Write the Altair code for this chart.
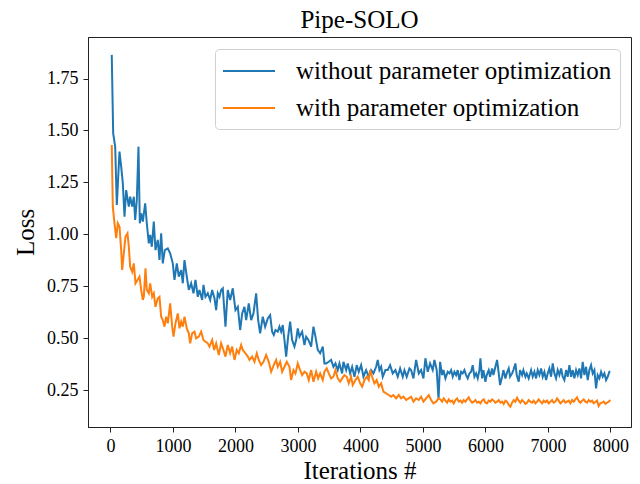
import altair as alt
import pandas as pd

FONT = "Liberation Serif"
SERIES = ["without parameter optimization", "with parameter optimization"]
COLORS = ["#1f77b4", "#ff7f0e"]

X_TICKS = [0, 1000, 2000, 3000, 4000, 5000, 6000, 7000, 8000]
Y_TICKS = [0.25, 0.50, 0.75, 1.00, 1.25, 1.50, 1.75]

blue_iter = [
    20, 43, 75, 101, 144, 171, 197, 224, 251, 293, 315, 347, 373, 395, 421, 448, 469, 491, 517, 555,
    581, 613, 635, 661, 693, 720, 757, 784, 811, 837, 869, 917, 955, 997, 1024, 1061, 1093, 1131, 1157, 1184,
    1221, 1253, 1291, 1328, 1360, 1397, 1424, 1467, 1488, 1520, 1557, 1595, 1627, 1664, 1691, 1717, 1744, 1771, 1797, 1840,
    1877, 1915, 1957, 2000, 2037, 2075, 2107, 2144, 2171, 2213, 2251, 2288, 2331, 2363, 2395, 2437, 2475, 2517, 2555, 2587,
    2613, 2640, 2677, 2704, 2731, 2757, 2784, 2811, 2843, 2875, 2907, 2944, 2971, 2997, 3024, 3067, 3104, 3131, 3168, 3211,
    3248, 3280, 3317, 3355, 3397, 3424, 3451, 3493, 3531, 3568, 3600, 3637, 3664, 3707, 3728, 3771, 3797, 3835, 3867, 3904,
    3941, 3973, 4011, 4048, 4091, 4133, 4171, 4208, 4251, 4277, 4304, 4331, 4357, 4400, 4437, 4475, 4517, 4560, 4597, 4635,
    4677, 4704, 4741, 4784, 4811, 4848, 4891, 4933, 4971, 5008, 5040, 5077, 5115, 5157, 5184, 5221, 5250, 5275, 5307, 5328,
    5360, 5397, 5424, 5451, 5477, 5504, 5531, 5557, 5584, 5611, 5637, 5664, 5691, 5717, 5744, 5771, 5797, 5824, 5851, 5877,
    5904, 5920, 5947, 5968, 6000, 6021, 6053, 6075, 6107, 6128, 6160, 6187, 6213, 6235, 6267, 6288, 6320, 6341, 6373, 6395,
    6427, 6448, 6480, 6501, 6533, 6555, 6587, 6608, 6640, 6661, 6693, 6731, 6757, 6784, 6811, 6837, 6864, 6891, 6917, 6944,
    6971, 6997, 7024, 7051, 7077, 7104, 7131, 7157, 7184, 7211, 7237, 7264, 7291, 7317, 7344, 7371, 7397, 7424, 7451, 7477,
    7504, 7531, 7557, 7584, 7611, 7637, 7664, 7691, 7717, 7744, 7771, 7797, 7824, 7851, 7877, 7904, 7931, 7957, 7984, 8000,
]
blue_loss = [
    1.864, 1.486, 1.422, 1.141, 1.398, 1.326, 1.246, 1.085, 1.213, 1.133, 1.181, 1.133, 1.181, 1.069, 1.165, 1.422, 1.053, 1.101, 1.061, 1.149,
    1.053, 0.956, 0.997, 0.940, 1.061, 0.924, 0.973, 0.876, 1.005, 0.860, 0.924, 0.932, 0.908, 0.860, 0.780, 0.860, 0.796, 0.828, 0.764, 0.876,
    0.796, 0.732, 0.764, 0.716, 0.780, 0.699, 0.732, 0.684, 0.756, 0.699, 0.716, 0.684, 0.732, 0.692, 0.635, 0.716, 0.699, 0.732, 0.740, 0.555,
    0.732, 0.684, 0.740, 0.635, 0.651, 0.539, 0.619, 0.651, 0.587, 0.667, 0.587, 0.619, 0.716, 0.587, 0.523, 0.603, 0.555, 0.595, 0.611, 0.531,
    0.515, 0.539, 0.531, 0.555, 0.531, 0.563, 0.491, 0.411, 0.507, 0.579, 0.491, 0.459, 0.491, 0.547, 0.507, 0.531, 0.467, 0.507, 0.491, 0.459,
    0.555, 0.507, 0.443, 0.427, 0.459, 0.378, 0.378, 0.386, 0.395, 0.362, 0.378, 0.346, 0.378, 0.330, 0.386, 0.346, 0.378, 0.330, 0.362, 0.314,
    0.370, 0.338, 0.370, 0.314, 0.346, 0.314, 0.346, 0.330, 0.362, 0.395, 0.346, 0.362, 0.314, 0.346, 0.346, 0.370, 0.330, 0.346, 0.314, 0.354,
    0.314, 0.346, 0.314, 0.354, 0.346, 0.306, 0.395, 0.330, 0.346, 0.306, 0.403, 0.338, 0.378, 0.346, 0.395, 0.346, 0.205, 0.386, 0.322, 0.346,
    0.306, 0.338, 0.330, 0.346, 0.314, 0.338, 0.322, 0.346, 0.298, 0.338, 0.330, 0.346, 0.322, 0.306, 0.330, 0.338, 0.370, 0.314, 0.330, 0.306,
    0.346, 0.403, 0.306, 0.346, 0.290, 0.322, 0.346, 0.314, 0.354, 0.322, 0.362, 0.395, 0.330, 0.274, 0.314, 0.346, 0.306, 0.330, 0.354, 0.314,
    0.330, 0.346, 0.378, 0.322, 0.290, 0.346, 0.322, 0.346, 0.314, 0.330, 0.306, 0.346, 0.314, 0.338, 0.306, 0.346, 0.322, 0.354, 0.314, 0.338,
    0.298, 0.330, 0.354, 0.314, 0.378, 0.330, 0.306, 0.346, 0.322, 0.354, 0.314, 0.298, 0.346, 0.314, 0.370, 0.314, 0.346, 0.306, 0.346, 0.322,
    0.354, 0.306, 0.386, 0.322, 0.362, 0.298, 0.346, 0.370, 0.330, 0.346, 0.258, 0.322, 0.306, 0.338, 0.314, 0.330, 0.298, 0.314, 0.338, 0.338,
]

orange_iter = [
    20, 37, 64, 91, 117, 144, 171, 187, 208, 240, 272, 293, 315, 347, 373, 400, 432, 464, 491, 517,
    533, 560, 581, 613, 635, 667, 693, 720, 757, 784, 811, 837, 864, 891, 917, 955, 987, 1008, 1040, 1077,
    1104, 1131, 1157, 1184, 1221, 1253, 1275, 1307, 1344, 1371, 1413, 1451, 1488, 1520, 1557, 1584, 1627, 1659, 1691, 1733,
    1771, 1808, 1840, 1877, 1915, 1947, 1984, 2021, 2053, 2091, 2117, 2160, 2197, 2224, 2267, 2304, 2341, 2373, 2411, 2448,
    2491, 2533, 2571, 2624, 2651, 2677, 2715, 2747, 2784, 2821, 2864, 2891, 2928, 2960, 2997, 3024, 3067, 3104, 3141, 3173,
    3211, 3248, 3291, 3323, 3355, 3397, 3424, 3461, 3493, 3531, 3568, 3600, 3637, 3675, 3707, 3744, 3781, 3813, 3851, 3877,
    3920, 3957, 3995, 4027, 4064, 4101, 4133, 4155, 4187, 4224, 4261, 4293, 4331, 4368, 4411, 4453, 4491, 4528, 4571, 4613,
    4651, 4688, 4731, 4773, 4811, 4848, 4891, 4933, 4971, 5008, 5051, 5093, 5131, 5168, 5211, 5253, 5280, 5307, 5333, 5360,
    5387, 5413, 5440, 5467, 5493, 5520, 5547, 5573, 5600, 5627, 5653, 5680, 5707, 5733, 5760, 5787, 5813, 5840, 5867, 5893,
    5920, 5947, 5973, 6000, 6027, 6053, 6080, 6107, 6133, 6160, 6187, 6213, 6240, 6267, 6293, 6320, 6347, 6373, 6400, 6427,
    6453, 6480, 6507, 6533, 6560, 6587, 6613, 6640, 6667, 6693, 6720, 6747, 6773, 6800, 6827, 6853, 6880, 6907, 6933, 6960,
    6987, 7013, 7040, 7067, 7093, 7120, 7147, 7173, 7200, 7227, 7253, 7280, 7307, 7333, 7360, 7387, 7413, 7440, 7467, 7493,
    7520, 7547, 7573, 7600, 7627, 7653, 7680, 7707, 7733, 7760, 7787, 7813, 7840, 7867, 7893, 7920, 7947, 7973, 8000,
]
orange_loss = [
    1.430, 1.133, 1.053, 0.981, 1.053, 1.037, 0.924, 0.828, 0.892, 0.989, 1.005, 0.940, 0.844, 0.820, 0.860, 0.764, 0.780, 0.796, 0.732, 0.684,
    0.699, 0.836, 0.732, 0.716, 0.764, 0.699, 0.716, 0.651, 0.692, 0.699, 0.603, 0.587, 0.555, 0.603, 0.571, 0.667, 0.555, 0.507, 0.571, 0.619,
    0.547, 0.579, 0.555, 0.603, 0.547, 0.523, 0.475, 0.523, 0.531, 0.499, 0.507, 0.531, 0.491, 0.483, 0.475, 0.459, 0.491, 0.443, 0.475, 0.419,
    0.475, 0.443, 0.411, 0.467, 0.427, 0.459, 0.395, 0.443, 0.427, 0.467, 0.443, 0.427, 0.411, 0.395, 0.411, 0.386, 0.427, 0.395, 0.370, 0.386,
    0.419, 0.386, 0.338, 0.378, 0.395, 0.362, 0.386, 0.338, 0.362, 0.386, 0.362, 0.298, 0.346, 0.330, 0.378, 0.354, 0.322, 0.338, 0.330, 0.298,
    0.346, 0.290, 0.338, 0.306, 0.330, 0.298, 0.338, 0.354, 0.330, 0.306, 0.314, 0.346, 0.306, 0.290, 0.306, 0.322, 0.314, 0.282, 0.314, 0.274,
    0.298, 0.314, 0.282, 0.266, 0.298, 0.314, 0.298, 0.346, 0.314, 0.282, 0.298, 0.266, 0.282, 0.242, 0.234, 0.226, 0.218, 0.226, 0.210, 0.226,
    0.210, 0.218, 0.202, 0.210, 0.218, 0.194, 0.210, 0.202, 0.218, 0.194, 0.210, 0.226, 0.202, 0.186, 0.194, 0.210, 0.205, 0.194, 0.210, 0.199,
    0.189, 0.205, 0.194, 0.199, 0.186, 0.202, 0.210, 0.194, 0.199, 0.189, 0.202, 0.194, 0.205, 0.215, 0.199, 0.189, 0.194, 0.202, 0.189, 0.194,
    0.186, 0.199, 0.205, 0.189, 0.186, 0.199, 0.194, 0.205, 0.199, 0.189, 0.194, 0.202, 0.189, 0.194, 0.183, 0.199, 0.194, 0.178, 0.170, 0.189,
    0.202, 0.194, 0.213, 0.199, 0.189, 0.202, 0.194, 0.183, 0.189, 0.202, 0.194, 0.189, 0.199, 0.186, 0.194, 0.205, 0.194, 0.186, 0.199, 0.192,
    0.199, 0.186, 0.194, 0.202, 0.189, 0.194, 0.210, 0.199, 0.186, 0.194, 0.202, 0.189, 0.194, 0.199, 0.186, 0.202, 0.194, 0.205, 0.215, 0.197,
    0.189, 0.199, 0.205, 0.194, 0.189, 0.202, 0.194, 0.199, 0.186, 0.192, 0.199, 0.173, 0.186, 0.189, 0.194, 0.183, 0.189, 0.194, 0.202,
]

df_blue = pd.DataFrame({"iter": blue_iter, "loss": blue_loss, "series": SERIES[0]})
df_orange = pd.DataFrame({"iter": orange_iter, "loss": orange_loss, "series": SERIES[1]})

x_enc = alt.X(
    "iter:Q",
    scale=alt.Scale(domain=[-360, 8330], nice=False, zero=False),
    axis=alt.Axis(
        values=X_TICKS, format="d", title="Iterations #", grid=False,
        titleY=51, titleBaseline="alphabetic",
    ),
)
y_enc = alt.Y(
    "loss:Q",
    scale=alt.Scale(domain=[0.072, 1.950], nice=False, zero=False),
    axis=alt.Axis(
        values=Y_TICKS, format=".2f", title="Loss", grid=False,
        titleAngle=270, titleX=-55, titleY=195, titleAlign="center", titleBaseline="alphabetic",
    ),
)
color_enc = alt.Color(
    "series:N",
    scale=alt.Scale(domain=SERIES, range=COLORS),
    legend=alt.Legend(
        title=None, orient="none", legendX=127, legendY=12,
        symbolType="M-2,0H2", symbolSize=676, symbolStrokeWidth=2,
        symbolOffset=12, labelOffset=33,
        labelFont=FONT, labelFontSize=25, labelColor="black", labelLimit=600,
        padding=8, rowPadding=10, strokeColor="#d0d0d0", fillColor="white", cornerRadius=4,
    ),
)

blue = alt.Chart(df_blue).mark_line(strokeWidth=2, clip=True).encode(x=x_enc, y=y_enc, color=color_enc)
orange = alt.Chart(df_orange).mark_line(strokeWidth=2, clip=True).encode(x=x_enc, y=y_enc, color=color_enc)

chart = (
    alt.layer(blue, orange)
    .properties(
        width=543, height=390,
        autosize=alt.AutoSizeParams(type="none"),
        padding={"left": 88, "top": 37, "right": 9, "bottom": 57},
        title=alt.TitleParams(
            "Pipe-SOLO", font=FONT, fontSize=25, fontWeight="normal", color="black",
            anchor="middle", offset=6, baseline="alphabetic", dy=22,
        ),
    )
    .configure(background="white")
    .configure_view(stroke="#222222", strokeWidth=1)
    .configure_axis(
        labelFont=FONT, labelFontSize=18, labelColor="black",
        titleFont=FONT, titleFontSize=25, titleFontWeight="normal", titleColor="black",
        tickColor="#222222", tickSize=5, tickWidth=1, domainColor="#222222", domainWidth=1,
        labelPadding=5,
    )
)

chart.save("out.html", embed_options={"renderer": "svg", "actions": False})
